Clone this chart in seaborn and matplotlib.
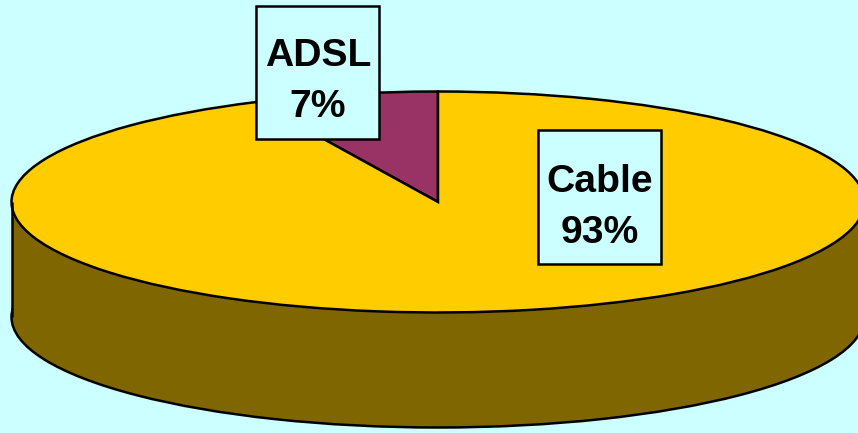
import matplotlib
matplotlib.use("Agg")
import matplotlib.pyplot as plt
from matplotlib.patches import Rectangle
import seaborn as sns

CATEGORIES = ["ADSL", "Cable"]
SHARES = [7, 93]
COLORS = ["#993366", "#FFCC00"]
SIDE_COLOR = "#806600"
BG_COLOR = "#CCFFFF"

WIDTH = 858
HEIGHT = 433
# pie geometry in pixels of the picture
CENTER_X = 438
CENTER_Y = 202
RADIUS_X = 426.5
RADIUS_Y = 110.5
DEPTH = 115
LINE_WIDTH = 1.8

sns.set_theme(style="white", rc={"figure.facecolor": BG_COLOR, "axes.facecolor": BG_COLOR})
plt.rcParams["font.family"] = ["Liberation Sans", "DejaVu Sans"]

fig = plt.figure(figsize=(WIDTH / 100, HEIGHT / 100), dpi=100)
ax = fig.add_axes([0, 0, 1, 1])
line = {"edgecolor": "black", "linewidth": LINE_WIDTH}
depth = DEPTH / RADIUS_Y

# bottom of the disc, then the wall, then the top
ax.pie([1], colors=[SIDE_COLOR], center=(0, -depth), wedgeprops=line)
ax.bar(0, depth, width=2, bottom=-depth, color=SIDE_COLOR, linewidth=0)
ax.vlines([-1, 1], -depth, 0, color="black", linewidth=LINE_WIDTH)
ax.pie(SHARES, colors=COLORS, startangle=90, wedgeprops={**line, "joinstyle": "miter"})

ax.set_aspect("auto")
ax.set_xlim(-CENTER_X / RADIUS_X, (WIDTH - CENTER_X) / RADIUS_X)
ax.set_ylim((CENTER_Y - HEIGHT) / RADIUS_Y, CENTER_Y / RADIUS_Y)
ax.axis("off")


def add_label(name, share, left, top, right, bottom, text_x, last_baseline):
    fig.add_artist(Rectangle((left / WIDTH, 1 - bottom / HEIGHT), (right - left) / WIDTH,
                             (bottom - top) / HEIGHT, transform=fig.transFigure,
                             facecolor=BG_COLOR, edgecolor="black", linewidth=LINE_WIDTH))
    fig.text(text_x / WIDTH, 1 - last_baseline / HEIGHT, f"{name}\n{share}%", ha="center",
             va="baseline", multialignment="center", fontsize=28.2, fontweight="bold",
             color="black", linespacing=1.53)


add_label(CATEGORIES[0], SHARES[0], 255.5, 5.5, 379, 139, 318, 117)
add_label(CATEGORIES[1], SHARES[1], 537.5, 130, 661, 264, 599.5, 243)

fig.savefig("out.png", dpi=100, facecolor=BG_COLOR)
